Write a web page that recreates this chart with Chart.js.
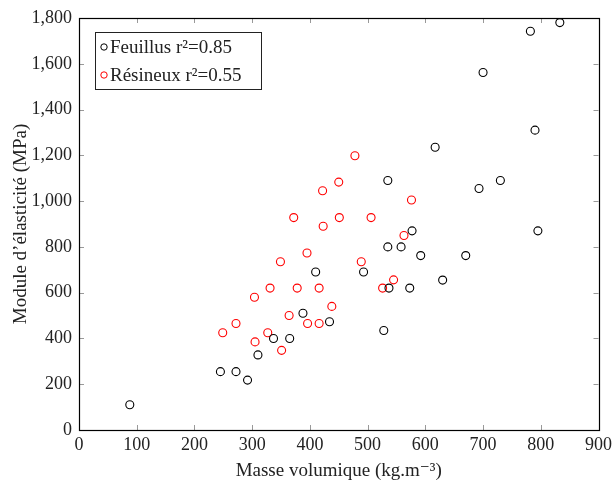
<!DOCTYPE html>
<html>
<head>
<meta charset="utf-8">
<script src="https://cdn.jsdelivr.net/npm/chart.js@4"></script>
<style>
  html, body { margin: 0; padding: 0; background: #fff; }
  #wrap { width: 616px; height: 487px; }
</style>
</head>
<body>
<div id="wrap"><canvas id="chart-module"></canvas></div>
<script>
// Feuillus (black)
const feuillusX = [88, 245, 272, 292, 310, 337, 365, 388, 410, 434, 493, 528, 537, 573, 630, 535, 558, 592, 670, 577, 795, 693, 730, 535, 617, 790, 700, 782, 833];
const feuillusY = [110, 255, 255, 218, 328, 400, 400, 510, 690, 473, 690, 435, 620, 620, 655, 800, 800, 762, 762, 870, 870, 1055, 1090, 1090, 1235, 1310, 1562, 1742, 1780];
// Résineux (red)
const resineuxX = [249, 272, 304, 305, 327, 331, 349, 351, 364, 372, 378, 395, 396, 416, 416, 422, 423, 438, 450, 451, 478, 489, 506, 526, 545, 563, 576];
const resineuxY = [425, 465, 580, 385, 425, 620, 735, 348, 500, 928, 620, 773, 465, 620, 465, 1045, 890, 540, 1083, 928, 1198, 735, 928, 620, 656, 850, 1005];

const seriesLabels = ['Feuillus r²=0.85', 'Résineux r²=0.55'];
const xTicks = [0, 100, 200, 300, 400, 500, 600, 700, 800, 900];
const yTicks = [0, 200, 400, 600, 800, 1000, 1200, 1400, 1600, 1800];

const FONT = '"Liberation Serif", "DejaVu Serif", serif';

const toPoints = (xs, ys) => xs.map((x, i) => ({ x: x, y: ys[i] }));

// frame + inward ticks on all four sides, legend box inside the plot
const framePlugin = {
  id: 'frame',
  afterDraw(chart) {
    const { ctx, chartArea: a, scales } = chart;
    ctx.save();
    ctx.strokeStyle = '#999';
    ctx.lineWidth = 1;
    const len = 5;
    xTicks.forEach(v => {
      const px = Math.round(scales.x.getPixelForValue(v)) + 0.5;
      ctx.beginPath();
      ctx.moveTo(px, a.bottom); ctx.lineTo(px, a.bottom - len);
      ctx.moveTo(px, a.top); ctx.lineTo(px, a.top + len);
      ctx.stroke();
    });
    yTicks.forEach(v => {
      const py = Math.round(scales.y.getPixelForValue(v)) + 0.5;
      ctx.beginPath();
      ctx.moveTo(a.left, py); ctx.lineTo(a.left + len, py);
      ctx.moveTo(a.right, py); ctx.lineTo(a.right - len, py);
      ctx.stroke();
    });
    ctx.strokeStyle = '#000';
    ctx.lineWidth = 1.2;
    ctx.strokeRect(Math.round(a.left) + 0.5, Math.round(a.top) + 0.5, Math.round(a.right - a.left), Math.round(a.bottom - a.top));

    // legend
    const lx = a.left + 16, ly = a.top + 14, lw = 166, lh = 57;
    ctx.fillStyle = '#fff';
    ctx.fillRect(lx, ly, lw, lh);
    ctx.strokeStyle = '#222';
    ctx.lineWidth = 1;
    ctx.strokeRect(lx + 0.5, ly + 0.5, lw, lh);
    ctx.font = '19px ' + FONT;
    ctx.textBaseline = 'middle';
    chart.data.datasets.forEach((ds, i) => {
      const cy = ly + 15 + i * 28;
      ctx.beginPath();
      ctx.strokeStyle = ds.borderColor;
      ctx.arc(lx + 9, cy, 3.2, 0, Math.PI * 2);
      ctx.stroke();
      ctx.fillStyle = '#222';
      ctx.fillText(ds.label, lx + 15, cy + 1);
    });
    ctx.restore();
  }
};

const ctx = document.getElementById('chart-module').getContext('2d');
const chart = new Chart(ctx, {
  type: 'scatter',
  data: {
    datasets: [
      {
        label: seriesLabels[0],
        data: toPoints(feuillusX, feuillusY),
        borderColor: '#000',
        backgroundColor: 'rgba(0,0,0,0)',
        pointRadius: 4,
        pointBorderWidth: 1.1,
        pointHoverRadius: 4
      },
      {
        label: seriesLabels[1],
        data: toPoints(resineuxX, resineuxY),
        borderColor: '#f00',
        backgroundColor: 'rgba(0,0,0,0)',
        pointRadius: 4,
        pointBorderWidth: 1.1,
        pointHoverRadius: 4
      }
    ]
  },
  options: {
    responsive: true,
    maintainAspectRatio: false,
    animation: false,
    locale: 'en-US',
    layout: { padding: { top: 18, right: 14, left: 0, bottom: 0 } },
    plugins: {
      legend: { display: false },
      tooltip: { enabled: false }
    },
    scales: {
      x: {
        type: 'linear',
        min: 0, max: 900,
        afterBuildTicks: (s) => { s.ticks = xTicks.map(v => ({ value: v })); },
        afterFit: (s) => { s.height = 57; },
        grid: { display: false, drawTicks: false },
        border: { display: false },
        ticks: { color: '#222', padding: 4, font: { family: FONT, size: 18 }, maxRotation: 0 },
        title: {
          display: true,
          text: 'Masse volumique (kg.m⁻³)',
          color: '#222',
          font: { family: FONT, size: 19 },
          padding: { top: 0, bottom: 5 }
        }
      },
      y: {
        type: 'linear',
        min: 0, max: 1800,
        afterBuildTicks: (s) => { s.ticks = yTicks.map(v => ({ value: v })); },
        afterFit: (s) => { s.width = 79; },
        grid: { display: false, drawTicks: false },
        border: { display: false },
        ticks: { color: '#222', padding: 7, font: { family: FONT, size: 18 } },
        title: {
          display: true,
          text: 'Module d’élasticité (MPa)',
          color: '#222',
          font: { family: FONT, size: 19 },
          padding: { top: 10, bottom: 0 }
        }
      }
    }
  },
  plugins: [framePlugin]
});
</script>
</body>
</html>
